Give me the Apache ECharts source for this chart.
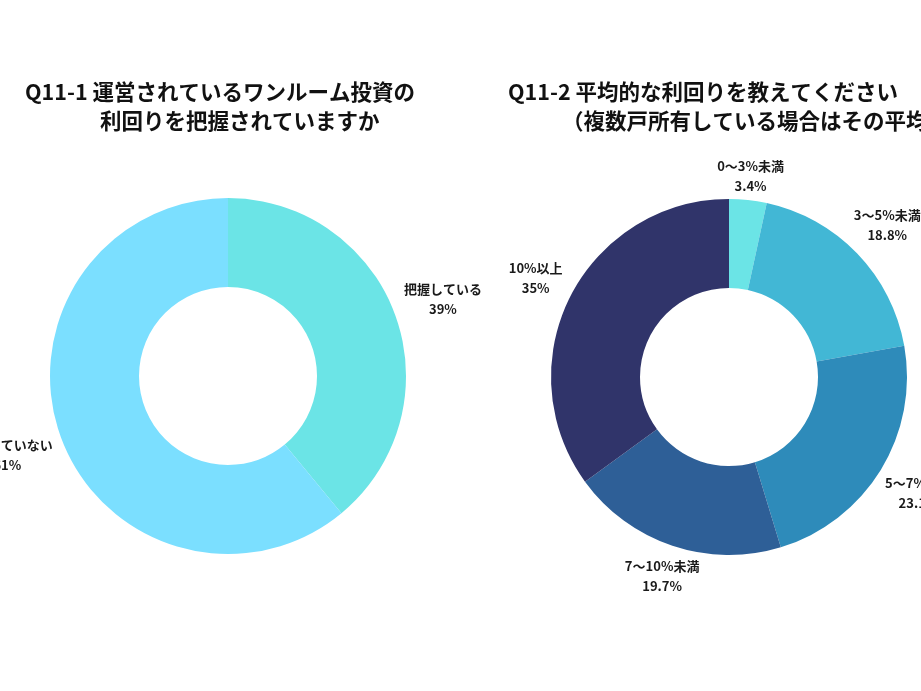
<!DOCTYPE html>
<html>
<head>
<meta charset="utf-8">
<script src="https://cdn.jsdelivr.net/npm/echarts@6/dist/echarts.min.js"></script>
<style>
  html, body { margin: 0; padding: 0; background: #fff; }
  #main { width: 921px; height: 691px; }
</style>
</head>
<body>
<div id="main"></div>
<script>
// Q11-1 利回りを把握しているか
const q1Names = ['把握している', '把握していない'];
const q1Values = [39, 61];
const q1Colors = ['#6be4e6', '#7bdfff'];

// Q11-2 平均的な利回り
const q2Names = ['0〜3%未満', '3〜5%未満', '5〜7%未満', '7〜10%未満', '10%以上'];
const q2Values = [3.4, 18.8, 23.1, 19.7, 35];
const q2Colors = ['#6be4e6', '#42b7d5', '#2e8bba', '#2e5f97', '#30346a'];

const FONT = '"Noto Sans CJK JP", "Noto Sans", sans-serif';
const labelGap = 10;

// ラベルを扇形の外側に中央揃えで置く（ガイド線の向きから計算）
function placeLabel(params) {
  var pts = params.labelLinePoints;
  if (!pts) return {};
  var ex = pts[0][0], ey = pts[0][1];
  var dx = pts[1][0] - ex, dy = pts[1][1] - ey;
  var len = Math.sqrt(dx * dx + dy * dy) || 1;
  dx /= len; dy /= len;
  var w = params.labelRect.width, h = params.labelRect.height;
  // 行高より文字の見た目が小さいので縦方向は少し詰める
  var d = labelGap + Math.abs(dx) * w / 2 + Math.abs(dy) * (h / 2 - 9);
  return { x: ex + dx * d, y: ey + dy * d, align: 'center', verticalAlign: 'middle' };
}

function toData(names, values, colors) {
  return names.map(function (n, i) {
    return { name: n, value: values[i], itemStyle: { color: colors[i] } };
  });
}

function donut(center, data) {
  return {
    type: 'pie',
    center: center,
    radius: [89, 178],
    startAngle: 90,
    clockwise: true,
    avoidLabelOverlap: false,
    silent: true,
    itemStyle: { borderWidth: 0 },
    label: {
      show: true,
      position: 'outside',
      formatter: '{b}\n{c}%',
      fontFamily: FONT,
      fontSize: 13,
      fontWeight: 'bold',
      lineHeight: 20,
      color: '#1a1a1a'
    },
    labelLine: { show: true, length: 10, length2: 0, lineStyle: { opacity: 0 } },
    labelLayout: placeLabel,
    data: data
  };
}

const titleStyle = { fontFamily: FONT, fontSize: 21.5, fontWeight: 'bold', color: '#111' };

const chart = echarts.init(document.getElementById('main'), null, { renderer: 'canvas' });
const option = {
  backgroundColor: '#ffffff',
  animation: false,
  title: [
    { text: 'Q11-1 運営されているワンルーム投資の', left: 25, top: 81, padding: 0, textStyle: titleStyle },
    { text: '利回りを把握されていますか', left: 100, top: 110, padding: 0, textStyle: titleStyle },
    { text: 'Q11-2 平均的な利回りを教えてください', left: 508, top: 81, padding: 0, textStyle: titleStyle },
    { text: '（複数戸所有している場合はその平均）', left: 562, top: 110, padding: 0, textStyle: titleStyle }
  ],
  series: [
    donut([228, 376], toData(q1Names, q1Values, q1Colors)),
    donut([729, 377], toData(q2Names, q2Values, q2Colors))
  ]
};
chart.setOption(option);
</script>
</body>
</html>
